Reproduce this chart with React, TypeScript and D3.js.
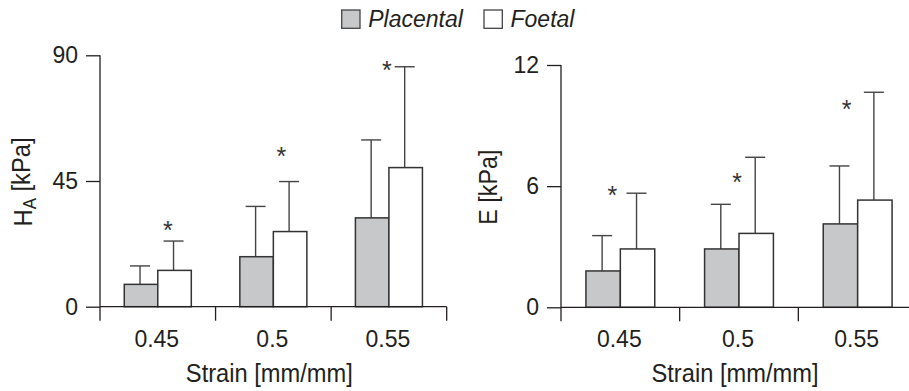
import React, { useRef, useEffect } from "react";
import * as d3 from "d3";

// strain levels on the x axis
const strains = ["0.45", "0.5", "0.55"];

// H_A [kPa]
const haTicks = [0, 45, 90];
const haPlacental = [8.0, 17.9, 31.8];
const haPlacentalSd = [6.6, 18.0, 27.9];
const haFoetal = [13.0, 26.9, 49.8];
const haFoetalSd = [10.5, 17.9, 36.1];
const haStars = [29.3, 55.5, 86.5];

// E [kPa]
const eTicks = [0, 6, 12];
const ePlacental = [1.8, 2.89, 4.13];
const ePlacentalSd = [1.75, 2.21, 2.87];
const eFoetal = [2.89, 3.66, 5.31];
const eFoetalSd = [2.76, 3.77, 5.34];
const eStars = [5.81, 6.42, 10.05];

const legendItems = ["Placental", "Foetal"];

const INK = "#231f20";
const GREY = "#c7c8ca";
const FONT = "'Liberation Sans', Arial, Helvetica, sans-serif";

type PanelOpts = {
  xRange: [number, number];
  yRange: [number, number];
  ticks: number[];
  placental: number[];
  placentalSd: number[];
  foetal: number[];
  foetalSd: number[];
  stars: number[];
  starShift: number[];
  yLabelX: number;
  yLabelLen: number;
  label: "HA" | "E";
};

function drawPanel(svg: any, o: PanelOpts) {
  const x = d3.scaleBand().domain(strains).range(o.xRange).padding(0);
  const y = d3
    .scaleLinear()
    .domain([0, o.ticks[o.ticks.length - 1]])
    .range(o.yRange);
  const y0 = y(0);
  const bw = x.bandwidth() * 0.29;

  const g = svg.append("g");

  // y axis
  const ya = g
    .append("g")
    .attr("transform", `translate(${o.xRange[0]},0)`)
    .call(d3.axisLeft(y).tickValues(o.ticks).tickSize(14).tickPadding(8).tickFormat(d3.format("d")));
  ya.select(".domain").remove();
  ya.selectAll("line").attr("stroke", INK).attr("stroke-width", 1.3);
  ya.selectAll("text")
    .attr("fill", INK)
    .attr("font-size", 23)
    .attr("font-family", FONT);
  g.append("line")
    .attr("x1", o.xRange[0])
    .attr("x2", o.xRange[0])
    .attr("y1", y(o.ticks[o.ticks.length - 1]))
    .attr("y2", y0)
    .attr("stroke", INK)
    .attr("stroke-width", 1.3);

  // bars
  strains.forEach((s, i) => {
    const cx = x(s)! + x.bandwidth() / 2;
    const groups = [
      { v: o.placental[i], sd: o.placentalSd[i], fill: GREY, x0: cx - bw },
      { v: o.foetal[i], sd: o.foetalSd[i], fill: "#fff", x0: cx },
    ];
    groups.forEach((b) => {
      const ex = b.x0 + bw / 2 - 1;
      g.append("line")
        .attr("x1", ex)
        .attr("x2", ex)
        .attr("y1", y(b.v))
        .attr("y2", y(b.v + b.sd))
        .attr("stroke", "#444")
        .attr("stroke-width", 1.4);
      g.append("line")
        .attr("x1", ex - 10)
        .attr("x2", ex + 10)
        .attr("y1", y(b.v + b.sd))
        .attr("y2", y(b.v + b.sd))
        .attr("stroke", "#444")
        .attr("stroke-width", 1.4);
      g.append("rect")
        .attr("x", b.x0)
        .attr("y", y(b.v))
        .attr("width", bw)
        .attr("height", y0 - y(b.v))
        .attr("fill", b.fill)
        .attr("stroke", "#333")
        .attr("stroke-width", 1.5);
    });
    g.append("text")
      .attr("x", cx + o.starShift[i])
      .attr("y", y(o.stars[i]))
      .attr("dy", "0.55em")
      .attr("text-anchor", "middle")
      .attr("font-size", 25)
      .attr("font-family", FONT)
      .attr("fill", "#333")
      .text("*");
  });

  // x axis
  g.append("line")
    .attr("x1", o.xRange[0])
    .attr("x2", o.xRange[1])
    .attr("y1", y0)
    .attr("y2", y0)
    .attr("stroke", INK)
    .attr("stroke-width", 1.3);
  const bounds = strains.map((s) => x(s)!).concat([o.xRange[1]]);
  g.selectAll(".xtick")
    .data(bounds)
    .enter()
    .append("line")
    .attr("x1", (d: number) => d)
    .attr("x2", (d: number) => d)
    .attr("y1", y0)
    .attr("y2", y0 + 14)
    .attr("stroke", INK)
    .attr("stroke-width", 1.3);
  g.selectAll(".xlab")
    .data(strains)
    .enter()
    .append("text")
    .attr("x", (d: string) => x(d)! + x.bandwidth() / 2 - 1)
    .attr("y", y0 + 40)
    .attr("text-anchor", "middle")
    .attr("font-size", 23)
    .attr("font-family", FONT)
    .attr("fill", INK)
    .text((d: string) => d);

  g.append("text")
    .attr("x", (o.xRange[0] + o.xRange[1]) / 2 - 4)
    .attr("y", y0 + 75)
    .attr("text-anchor", "middle")
    .attr("font-size", 25.5)
    .attr("font-family", FONT)
    .attr("fill", INK)
    .attr("textLength", 167)
    .attr("lengthAdjust", "spacingAndGlyphs")
    .text("Strain [mm/mm]");

  // y label
  const yMid = (o.yRange[0] + o.yRange[1]) / 2;
  const yl = g
    .append("text")
    .attr("transform", `translate(${o.yLabelX},${yMid + 1}) rotate(-90)`)
    .attr("dy", "0.35em")
    .attr("text-anchor", "middle")
    .attr("font-size", 25.5)
    .attr("font-family", FONT)
    .attr("fill", INK)
    .attr("textLength", o.yLabelLen)
    .attr("lengthAdjust", "spacingAndGlyphs");
  if (o.label === "HA") {
    yl.append("tspan").text("H");
    yl.append("tspan").attr("font-size", 18).attr("dy", "0.25em").text("A");
    yl.append("tspan").attr("dy", "-0.25em").text(" [kPa]");
  } else {
    yl.text("E [kPa]");
  }
}

const App = () => {
  const ref = useRef<SVGSVGElement>(null);

  useEffect(() => {
    const svg = d3.select(ref.current);
    svg.selectAll("*").remove();

    drawPanel(svg, {
      xRange: [100, 446.7],
      yRange: [306.7, 55.3],
      ticks: haTicks,
      placental: haPlacental,
      placentalSd: haPlacentalSd,
      foetal: haFoetal,
      foetalSd: haFoetalSd,
      stars: haStars,
      starShift: [10, 8, -2],
      yLabelX: 23,
      yLabelLen: 89,
      label: "HA",
    });
    drawPanel(svg, {
      xRange: [561, 917],
      yRange: [307.3, 65],
      ticks: eTicks,
      placental: ePlacental,
      placentalSd: ePlacentalSd,
      foetal: eFoetal,
      foetalSd: eFoetalSd,
      stars: eStars,
      starShift: [-8, -2, -11],
      yLabelX: 488,
      yLabelLen: 75,
      label: "E",
    });

    // legend
    const lg = svg.append("g");
    const lx = [341.7, 484];
    legendItems.forEach((name, i) => {
      lg.append("rect")
        .attr("x", lx[i])
        .attr("y", 10)
        .attr("width", 18.3)
        .attr("height", 18.3)
        .attr("fill", i === 0 ? GREY : "#fff")
        .attr("stroke", "#444")
        .attr("stroke-width", 1.3);
      lg.append("text")
        .attr("x", lx[i] + 26.5)
        .attr("y", 26.5)
        .attr("font-size", 23)
        .attr("font-style", "italic")
        .attr("font-family", FONT)
        .attr("fill", INK)
        .text(name);
    });

    return () => {
      svg.selectAll("*").remove();
    };
  }, []);

  return (
    <svg
      ref={ref}
      width={909}
      height={391}
      style={{ position: "absolute", left: 0, top: 0, display: "block", background: "#fff" }}
    />
  );
};

export default App;
